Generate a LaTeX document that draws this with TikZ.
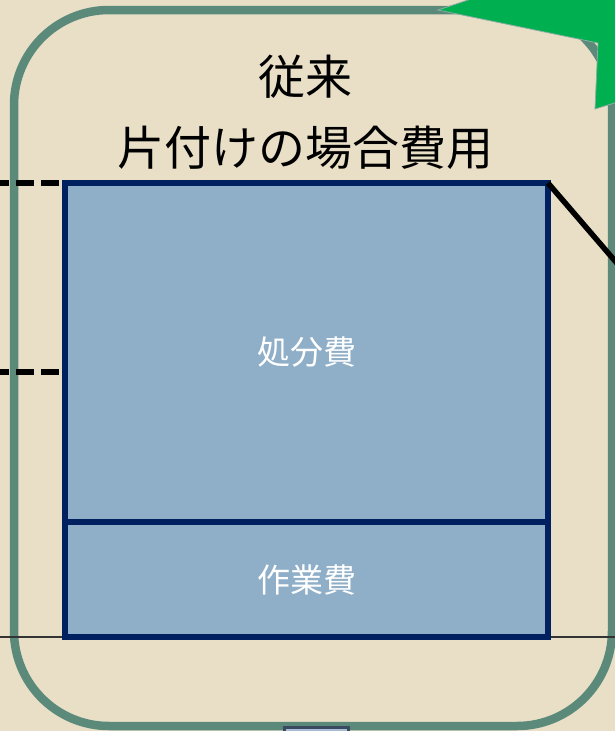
\documentclass[tikz,border=0pt]{standalone}
\usepackage{fontspec}
\newfontfamily\cjk{Noto Sans CJK JP}
\definecolor{bg}{HTML}{E8DFC6}
\definecolor{frame}{HTML}{5B8A7A}
\definecolor{boxfill}{HTML}{8FAFC8}
\definecolor{boxline}{HTML}{002060}
\definecolor{grn}{HTML}{00B050}
\definecolor{smallfill}{HTML}{A9BED4}
\definecolor{smallline}{HTML}{3A4A60}
\tikzset{
  costbox/.style={draw=boxline, line width=5.5pt, fill=boxfill, inner sep=0pt, outer sep=0pt, text=white, font=\cjk\fontsize{33}{38}\selectfont},
  title/.style={font=\cjk\fontsize{47}{52}\selectfont, text=black, inner sep=0pt},
  dashline/.style={draw=black, line width=5.5pt, dash pattern=on 18pt off 7pt, dash phase=9pt},
}
\begin{document}
\begin{tikzpicture}[x=1pt,y=-1pt]
\useasboundingbox (0,0) rectangle (615,731);
\clip (0,0) rectangle (615,731);
\fill[bg] (0,0) rectangle (615,731);
% frame
\draw[frame, line width=8.5pt, rounded corners=95pt] (14,10) rectangle (612,726);
% baseline
\draw[black!80, line width=1.2pt] (0,637) -- (615,637);
% boxes
\node[costbox, minimum width=483pt, minimum height=339pt, anchor=north west] (dispose) at (65,183) {処分費};
\node[costbox, minimum width=483pt, minimum height=115pt, anchor=north west] (work) at (65,522) {作業費};
% dashed lines
\coordinate (dl1) at (0,183);
\coordinate (dl2) at (0,372);
\draw[dashline] (dl1) -- (dispose.north west);
\draw[dashline] (dl2) -- (dispose.west |- 0,372);
% diagonal
\coordinate (diagend) at (640,290);
\draw[black, line width=5.5pt] (dispose.north east) -- (diagend);
% green arrow
\fill[grn, draw=frame!70, line width=0.8pt] (438,10) -- (598,43) -- (595,109) -- (650,92) -- (650,-40) -- (480,-4) -- cycle;
% small rect at bottom
\node[draw=smallline, line width=3pt, fill=smallfill, minimum width=64pt, minimum height=20pt, anchor=north west, inner sep=0pt, outer sep=0pt] (small) at (284,727) {};
% titles
\node[title] (t1) at (305,77) {従来};
\node[title] (t2) at (305,148) {片付けの場合費用};
\end{tikzpicture}
\end{document}
